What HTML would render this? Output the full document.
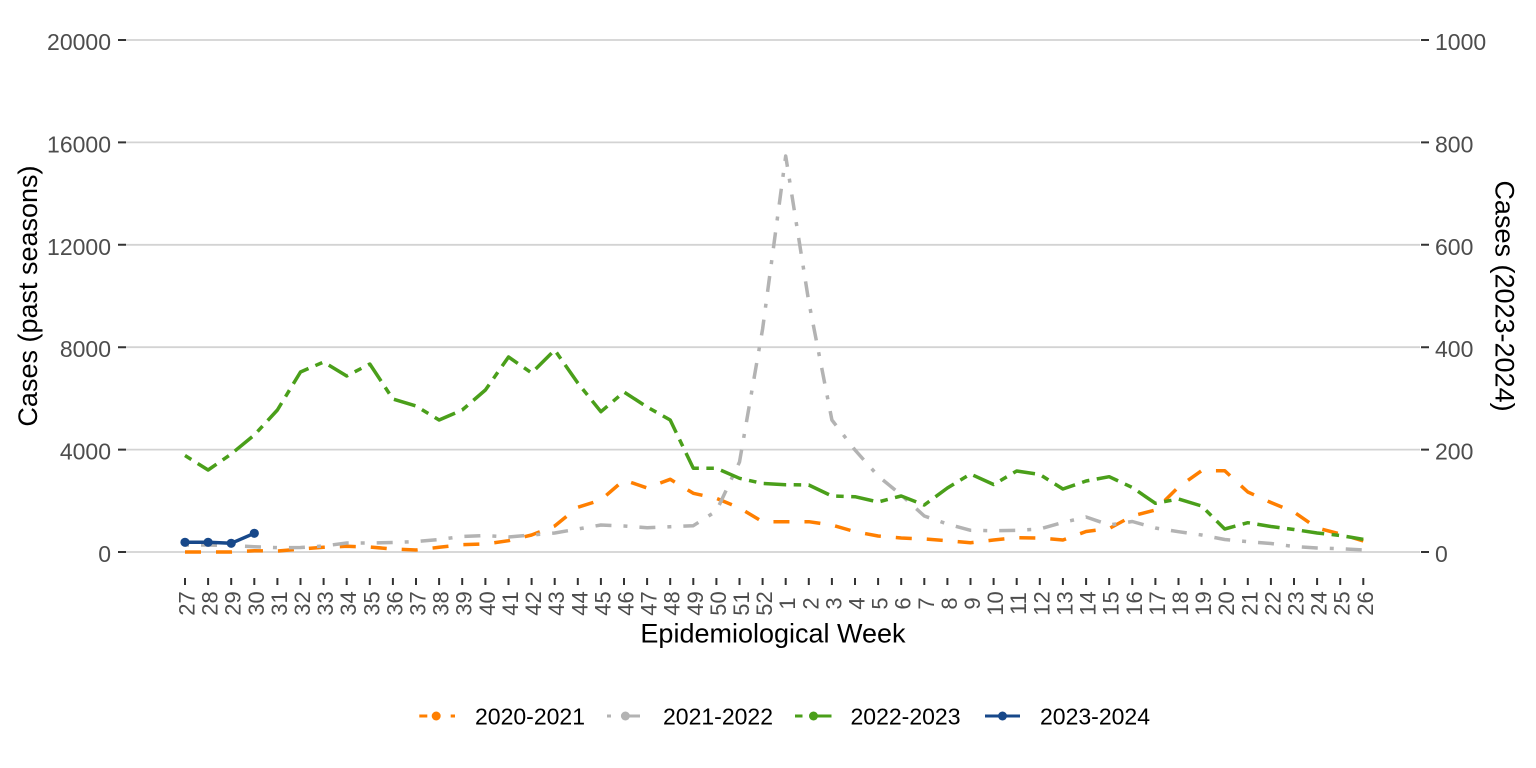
<!DOCTYPE html>
<html>
<head>
<meta charset="utf-8">
<style>
html,body{margin:0;padding:0;background:#fff}
svg{display:block}
text{font-family:"Liberation Sans",Arial,sans-serif}
</style>
</head>
<body>
<svg width="1536" height="768" viewBox="0 0 1536 768" xmlns="http://www.w3.org/2000/svg">
<rect width="1536" height="768" fill="#fff"/>
<path stroke="#d3d3d3" stroke-width="1.8" fill="none" d="M126 40H1420M126 142.4H1420M126 244.8H1420M126 347.2H1420M126 449.6H1420M126 552H1420"/>
<path stroke="#333" stroke-width="2" fill="none" d="M118 40h8M118 142.4h8M118 244.8h8M118 347.2h8M118 449.6h8M118 552h8M1421 40h8M1421 142.4h8M1421 244.8h8M1421 347.2h8M1421 449.6h8M1421 552h8"/>
<path stroke="#333" stroke-width="2" fill="none" d="M185 578v7M208.1 578v7M231.2 578v7M254.3 578v7M277.4 578v7M300.5 578v7M323.6 578v7M346.7 578v7M369.8 578v7M392.9 578v7M416 578v7M439.1 578v7M462.2 578v7M485.4 578v7M508.5 578v7M531.6 578v7M554.7 578v7M577.8 578v7M600.9 578v7M624 578v7M647.1 578v7M670.2 578v7M693.3 578v7M716.4 578v7M739.5 578v7M762.6 578v7M785.7 578v7M808.8 578v7M831.9 578v7M855 578v7M878.1 578v7M901.2 578v7M924.3 578v7M947.4 578v7M970.5 578v7M993.6 578v7M1016.7 578v7M1039.8 578v7M1062.9 578v7M1086.1 578v7M1109.2 578v7M1132.3 578v7M1155.4 578v7M1178.5 578v7M1201.6 578v7M1224.7 578v7M1247.8 578v7M1270.9 578v7M1294 578v7M1317.1 578v7M1340.2 578v7M1363.3 578v7"/>
<g font-size="23" fill="#4d4d4d" text-anchor="end">
<text x="111" y="50">20000</text>
<text x="111" y="152.4">16000</text>
<text x="111" y="254.8">12000</text>
<text x="111" y="357.2">8000</text>
<text x="111" y="459.6">4000</text>
<text x="111" y="562">0</text>
</g>
<g font-size="23" fill="#4d4d4d">
<text x="1435" y="50">1000</text>
<text x="1435" y="152.4">800</text>
<text x="1435" y="254.8">600</text>
<text x="1435" y="357.2">400</text>
<text x="1435" y="459.6">200</text>
<text x="1435" y="562">0</text>
</g>
<g font-size="22" fill="#4d4d4d" text-anchor="middle">
<text transform="translate(194.5,603.5) rotate(-90)">27</text>
<text transform="translate(217.6,603.5) rotate(-90)">28</text>
<text transform="translate(240.7,603.5) rotate(-90)">29</text>
<text transform="translate(263.8,603.5) rotate(-90)">30</text>
<text transform="translate(286.9,603.5) rotate(-90)">31</text>
<text transform="translate(310,603.5) rotate(-90)">32</text>
<text transform="translate(333.1,603.5) rotate(-90)">33</text>
<text transform="translate(356.2,603.5) rotate(-90)">34</text>
<text transform="translate(379.3,603.5) rotate(-90)">35</text>
<text transform="translate(402.4,603.5) rotate(-90)">36</text>
<text transform="translate(425.5,603.5) rotate(-90)">37</text>
<text transform="translate(448.6,603.5) rotate(-90)">38</text>
<text transform="translate(471.7,603.5) rotate(-90)">39</text>
<text transform="translate(494.9,603.5) rotate(-90)">40</text>
<text transform="translate(518,603.5) rotate(-90)">41</text>
<text transform="translate(541.1,603.5) rotate(-90)">42</text>
<text transform="translate(564.2,603.5) rotate(-90)">43</text>
<text transform="translate(587.3,603.5) rotate(-90)">44</text>
<text transform="translate(610.4,603.5) rotate(-90)">45</text>
<text transform="translate(633.5,603.5) rotate(-90)">46</text>
<text transform="translate(656.6,603.5) rotate(-90)">47</text>
<text transform="translate(679.7,603.5) rotate(-90)">48</text>
<text transform="translate(702.8,603.5) rotate(-90)">49</text>
<text transform="translate(725.9,603.5) rotate(-90)">50</text>
<text transform="translate(749,603.5) rotate(-90)">51</text>
<text transform="translate(772.1,603.5) rotate(-90)">52</text>
<text transform="translate(795.2,603.5) rotate(-90)">1</text>
<text transform="translate(818.3,603.5) rotate(-90)">2</text>
<text transform="translate(841.4,603.5) rotate(-90)">3</text>
<text transform="translate(864.5,603.5) rotate(-90)">4</text>
<text transform="translate(887.6,603.5) rotate(-90)">5</text>
<text transform="translate(910.7,603.5) rotate(-90)">6</text>
<text transform="translate(933.8,603.5) rotate(-90)">7</text>
<text transform="translate(956.9,603.5) rotate(-90)">8</text>
<text transform="translate(980,603.5) rotate(-90)">9</text>
<text transform="translate(1003.1,603.5) rotate(-90)">10</text>
<text transform="translate(1026.2,603.5) rotate(-90)">11</text>
<text transform="translate(1049.3,603.5) rotate(-90)">12</text>
<text transform="translate(1072.4,603.5) rotate(-90)">13</text>
<text transform="translate(1095.6,603.5) rotate(-90)">14</text>
<text transform="translate(1118.7,603.5) rotate(-90)">15</text>
<text transform="translate(1141.8,603.5) rotate(-90)">16</text>
<text transform="translate(1164.9,603.5) rotate(-90)">17</text>
<text transform="translate(1188,603.5) rotate(-90)">18</text>
<text transform="translate(1211.1,603.5) rotate(-90)">19</text>
<text transform="translate(1234.2,603.5) rotate(-90)">20</text>
<text transform="translate(1257.3,603.5) rotate(-90)">21</text>
<text transform="translate(1280.4,603.5) rotate(-90)">22</text>
<text transform="translate(1303.5,603.5) rotate(-90)">23</text>
<text transform="translate(1326.6,603.5) rotate(-90)">24</text>
<text transform="translate(1349.7,603.5) rotate(-90)">25</text>
<text transform="translate(1372.8,603.5) rotate(-90)">26</text>
</g>
<text x="773" y="642.5" font-size="27" text-anchor="middle">Epidemiological Week</text>
<text transform="translate(37,296) rotate(-90)" font-size="27" text-anchor="middle">Cases (past seasons)</text>
<text transform="translate(1495.5,296) rotate(90)" font-size="27" text-anchor="middle">Cases (2023-2024)</text>
<g fill="none" stroke-linejoin="round" stroke-width="3.5">
<polyline stroke="#ff7f00" stroke-dasharray="16 15" points="185,552 208.1,552 231.2,552 254.3,550.7 277.4,551 300.5,549 323.6,547.3 346.7,546.3 369.8,547 392.9,549 416,550 439.1,547.3 462.2,544.7 485.4,544 508.5,540.7 531.6,535 554.7,526 577.8,507.3 600.9,500 624,480 647.1,488 670.2,479.3 693.3,493.3 716.4,498.3 739.5,508 762.6,521.7 785.7,521.7 808.8,521.7 831.9,525 855,531.7 878.1,536 901.2,538 924.3,539 947.4,540.7 970.5,542.7 993.6,540 1016.7,537.7 1039.8,538 1062.9,540 1086.1,531.5 1109.2,528.5 1132.3,516 1155.4,510 1178.5,487 1201.6,470.7 1224.7,470.7 1247.8,492 1270.9,502.5 1294,512 1317.1,528 1340.2,534 1363.3,541"/>
<polyline stroke="#b3b3b3" stroke-dasharray="4 12 16 12" points="185,545 208.1,545 231.2,545.5 254.3,546.7 277.4,547.7 300.5,547.5 323.6,546 346.7,543 369.8,543 392.9,542.5 416,541.5 439.1,539.5 462.2,536.5 485.4,535.5 508.5,537 531.6,535 554.7,533 577.8,529 600.9,525 624,526 647.1,527.7 670.2,526.7 693.3,525.7 716.4,511 739.5,462 762.6,329 785.7,156 808.8,302 831.9,420 855,450 878.1,476 901.2,495 924.3,516 947.4,524 970.5,530.3 993.6,530.7 1016.7,530.3 1039.8,529 1062.9,522.5 1086.1,517 1109.2,525 1132.3,521.5 1155.4,528 1178.5,531.7 1201.6,535 1224.7,539.5 1247.8,541.7 1270.9,543.5 1294,546.5 1317.1,548 1340.2,548.7 1363.3,550"/>
<polyline stroke="#4a9f1a" stroke-dasharray="7.5 7.5 22.5 7.5" points="185,455.5 208.1,470 231.2,454 254.3,435 277.4,410 300.5,372 323.6,362 346.7,376 369.8,364 392.9,399 416,406 439.1,420 462.2,410 485.4,390 508.5,357 531.6,373 554.7,350 577.8,383 600.9,411.7 624,392 647.1,407 670.2,420 693.3,468.3 716.4,468.3 739.5,478.3 762.6,483.5 785.7,484.7 808.8,485 831.9,496 855,496.7 878.1,502 901.2,496 924.3,505 947.4,488 970.5,474 993.6,484.5 1016.7,471 1039.8,474.5 1062.9,489 1086.1,481 1109.2,476.7 1132.3,487.5 1155.4,503.3 1178.5,499 1201.6,506 1224.7,529 1247.8,522.7 1270.9,526.5 1294,529.5 1317.1,533 1340.2,535.5 1363.3,539.3"/>
<polyline stroke="#17488a" points="185,542.3 208.1,542.3 231.2,543.3 254.3,533.3"/>
</g>
<g fill="#17488a">
<circle cx="185" cy="542.3" r="4.6"/>
<circle cx="208.1" cy="542.3" r="4.6"/>
<circle cx="231.2" cy="543.3" r="4.6"/>
<circle cx="254.3" cy="533.3" r="4.6"/>
</g>
<g stroke-width="3" fill="none">
<path stroke="#ff7f00" d="M419.3 716h8M450.7 716h4.3"/>
<path stroke="#b3b3b3" d="M607 716h4M623 716h17"/>
<path stroke="#4a9f1a" d="M795 716h7.5M810 716h21.5"/>
<path stroke="#17488a" d="M985 716h35"/>
</g>
<circle cx="436.2" cy="716" r="4.5" fill="#ff7f00"/>
<circle cx="625.4" cy="716" r="4.5" fill="#b3b3b3"/>
<circle cx="813.5" cy="716" r="4.5" fill="#4a9f1a"/>
<circle cx="1002.5" cy="716" r="4.5" fill="#17488a"/>
<g font-size="23">
<text x="475" y="724.3">2020-2021</text>
<text x="663" y="724.3">2021-2022</text>
<text x="850.5" y="724.3">2022-2023</text>
<text x="1040" y="724.3">2023-2024</text>
</g>
</svg>
</body>
</html>
